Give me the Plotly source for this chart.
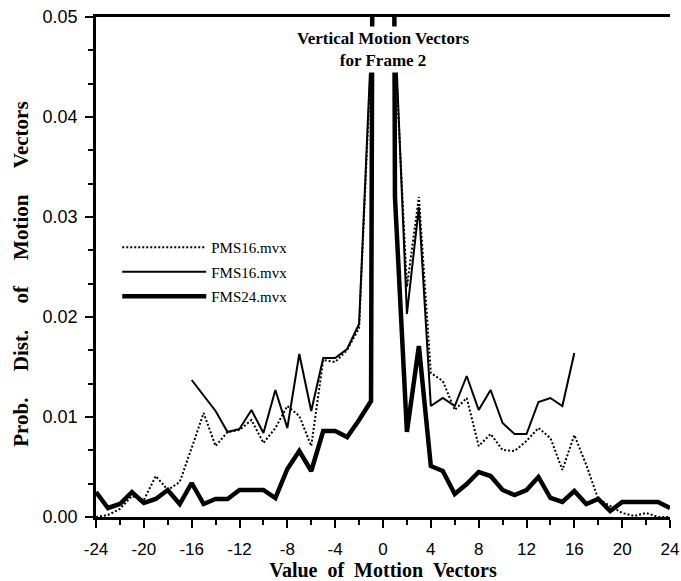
import plotly.graph_objects as go

# ---- data ----
x_values = list(range(-24, 25))

pms16 = [0.0, 0.0002, 0.0008, 0.0021, 0.0017, 0.0041, 0.0027, 0.0035,
         0.0069, 0.0104, 0.0071, 0.0085, 0.0087, 0.0097, 0.0074, 0.0089,
         0.0111, 0.0101, 0.0071, 0.0157, 0.0155, 0.0167, 0.0189, 0.046,
         0.40,
         0.047, 0.023, 0.032, 0.0144, 0.0136, 0.0107, 0.0119, 0.0071,
         0.0083, 0.0067, 0.0066, 0.0076, 0.0089, 0.0079, 0.0047, 0.0082,
         0.0052, 0.0018, 0.0011, 0.0004, 0.0001, 0.0004, 0.0, 0.0]

fms16_x = list(range(-16, 17))
fms16 = [0.0137, 0.0121, 0.0106, 0.0085, 0.0088, 0.0107, 0.0084, 0.0127,
         0.0089, 0.0163, 0.0106, 0.0159, 0.0159, 0.0168, 0.0193, 0.047,
         0.40,
         0.049, 0.0203, 0.031, 0.0111, 0.0119, 0.0111, 0.0141, 0.0107,
         0.0127, 0.0094, 0.0083, 0.0083, 0.0115, 0.0119, 0.0111, 0.0164]

fms24 = [0.0025, 0.0009, 0.0013, 0.0025, 0.0014, 0.0018, 0.0027, 0.0013,
         0.0034, 0.0013, 0.0018, 0.0018, 0.0027, 0.0027, 0.0027, 0.0019,
         0.0048, 0.0066, 0.0046, 0.0086, 0.0086, 0.0080, 0.0097, 0.0116,
         0.40,
         0.032, 0.0085, 0.0171, 0.0051, 0.0046, 0.0023, 0.0033, 0.0045,
         0.0041, 0.0027, 0.0022, 0.0027, 0.0040, 0.0019, 0.0015, 0.0026,
         0.0013, 0.0018, 0.0006, 0.0015, 0.0015, 0.0015, 0.0015, 0.0009]

x_tick_vals = list(range(-24, 25, 4))
x_tick_labels = [str(v) for v in x_tick_vals]
y_tick_vals = [0.0, 0.01, 0.02, 0.03, 0.04, 0.05]
y_tick_labels = ["0.00", "0.01", "0.02", "0.03", "0.04", "0.05"]

series_names = ["PMS16.mvx", "FMS16.mvx", "FMS24.mvx"]
title_text = "Vertical Motion Vectors<br>for Frame 2"
NB = "\u00a0"
x_title = (NB * 2).join(["Value", "of", "Mottion", "Vectors"])
y_title = (NB * 5).join(["Prob.", "Dist.", "of", "Motion", "Vectors"])

SERIF = "Liberation Serif, Times New Roman, serif"
SANS = "Liberation Sans, Arial, Helvetica, sans-serif"

fig = go.Figure()
fig.add_trace(go.Scatter(x=x_values, y=pms16, mode="lines", name=series_names[0],
                         legendgroup="a",
                         line=dict(color="black", width=2, dash="2px,2px")))
fig.add_trace(go.Scatter(x=fms16_x, y=fms16, mode="lines", name=series_names[1],
                         legendgroup="b",
                         line=dict(color="black", width=2)))
fig.add_trace(go.Scatter(x=x_values, y=fms24, mode="lines", name=series_names[2],
                         legendgroup="c",
                         line=dict(color="black", width=4.5)))

# chart title inside the plot
fig.add_annotation(text="<b>" + title_text + "</b>", xref="x", yref="paper",
                   x=0, y=0.982, yanchor="top", showarrow=False,
                   bgcolor="white", borderpad=2,
                   font=dict(family=SERIF, size=17, color="black"))
# y-axis title
fig.add_annotation(text="<b>" + y_title + "</b>", xref="paper", yref="paper",
                   x=-0.132, y=0.485, xanchor="center", yanchor="middle",
                   textangle=-90, showarrow=False,
                   font=dict(family=SERIF, size=21, color="black"))

fig.update_layout(
    width=681, height=581, autosize=False,
    margin=dict(l=96, r=11, t=17, b=64),
    plot_bgcolor="white", paper_bgcolor="white",
    showlegend=True,
    legend=dict(x=0.037, y=0.572, xanchor="left", yanchor="top",
                font=dict(family=SERIF, size=15, color="black"),
                bgcolor="rgba(0,0,0,0)", traceorder="grouped",
                tracegroupgap=2, itemwidth=84),
    xaxis=dict(range=[-24, 24], tickmode="array", tickvals=x_tick_vals,
               ticktext=x_tick_labels, ticks="outside", ticklen=8, tickwidth=2,
               tickcolor="black", showline=True, linewidth=2.5, linecolor="black",
               mirror=True, showgrid=False, zeroline=False, automargin=False,
               ticklabelstandoff=7,
               tickfont=dict(family=SANS, size=17, color="black"),
               minor=dict(dtick=2, tick0=-24, ticks="outside", ticklen=5,
                          tickwidth=2, tickcolor="black"),
               title=dict(text=x_title, standoff=4,
                          font=dict(family=SERIF, size=20, color="black", weight="bold"))),
    yaxis=dict(range=[0, 0.05], tickmode="array", tickvals=y_tick_vals,
               ticktext=y_tick_labels, ticks="outside", ticklen=8, tickwidth=2,
               tickcolor="black", showline=True, linewidth=2.5, linecolor="black",
               showgrid=False, zeroline=False, automargin=False,
               ticklabelstandoff=4,
               tickfont=dict(family=SANS, size=18, color="black"),
               minor=dict(dtick=0.01 / 3, tick0=0, ticks="outside", ticklen=5,
                          tickwidth=2, tickcolor="black")),
    yaxis2=dict(range=[0, 0.05], overlaying="y", side="right", anchor="x",
                showticklabels=False, ticks="inside", tickvals=y_tick_vals,
                ticklen=6, tickwidth=1.5, tickcolor="black", automargin=False,
                showline=True, linewidth=2, linecolor="black",
                showgrid=False, zeroline=False,
                minor=dict(dtick=0.01 / 3, tick0=0, ticks="inside", ticklen=4,
                           tickwidth=1.5, tickcolor="black")),
)

fig.write_html("out.html",
               config={"displayModeBar": False},
               post_script="document.body.style.margin='0px';"
                           "document.body.style.overflow='hidden';")
